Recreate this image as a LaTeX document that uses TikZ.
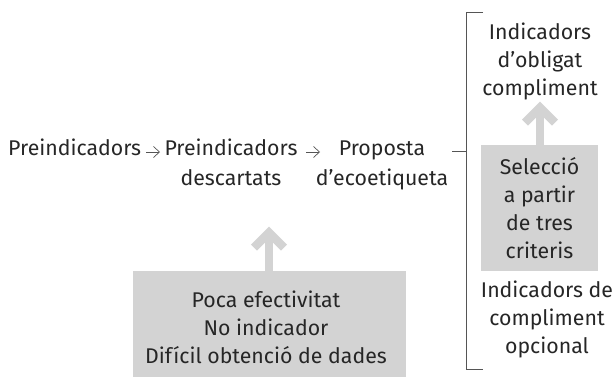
\documentclass[tikz,border=0pt]{standalone}
\usepackage{fontspec}
\setmainfont{Fira Sans}
\usetikzlibrary{arrows.meta}
\definecolor{txt}{HTML}{262626}
\definecolor{boxgray}{HTML}{D3D3D3}
\definecolor{linegray}{HTML}{555555}
\tikzset{
  lbl/.style={text=txt, inner sep=0pt, align=center, font=\fontsize{21.3}{28}\selectfont},
  lblwide/.style={lbl, font=\fontsize{21.3}{30}\selectfont},
  graybox/.style={fill=boxgray, draw=none, inner sep=0pt},
  fatarrow/.style={draw=boxgray, line width=8.5pt, miter limit=10},
  thinarr/.style={draw=linegray, line width=0.7pt, -{Straight Barb[length=6pt,width=11pt,line width=0.7pt]}},
  brack/.style={draw=linegray, line width=0.8pt}
}
\begin{document}
\begin{tikzpicture}[x=1pt,y=-1pt]
\useasboundingbox (0,0) rectangle (615,378);
% gray boxes
\node[graybox, minimum width=117pt, minimum height=126pt] (selbox) at (539.5,208) {};
\node[graybox, minimum width=273pt, minimum height=106pt] (botbox) at (269.5,324) {};
% texts (anchor base = baseline of the last line)
\node[lbl, anchor=base west] (p1) at (8,155) {Preindicadors};
\node[lblwide, anchor=base] (p2) at (231,185) {Preindicadors\\descartats};
\node[lblwide, anchor=base] (p3) at (382,185) {Proposta\\d’ecoetiqueta};
\node[lbl, anchor=base] (top) at (540,95) {Indicadors\\d’obligat\\compliment};
\node[lbl, anchor=base] (sel) at (539.5,258) {Selecció\\a partir\\de tres\\criteris};
\node[lbl, anchor=base] (opc) at (547,353) {Indicadors de\\compliment\\opcional};
\node[lbl, anchor=base] (bot) at (266,363) {Poca efectivitat\\No indicador\\Difícil obtenció de dades};
% thin arrows
\coordinate (a1s) at (146,152);
\coordinate (a1e) at (160,152);
\coordinate (a2s) at (306,152);
\coordinate (a2e) at (320,152);
\draw[thinarr] (a1s) -- (a1e);
\draw[thinarr] (a2s) -- (a2e);
% bracket
\coordinate (bt) at (466,12);
\coordinate (bb) at (466,369);
\coordinate (bj) at (466,151);
\coordinate (pe) at (452,151);
\draw[brack] (483,12) -- (bt) -- (bb) -- (483,369);
\draw[brack] (pe) -- (bj);
% fat arrows
\coordinate (t1) at (540,107.7);
\draw[fatarrow] (selbox.north -| t1) -- (t1);
\draw[fatarrow] ([shift={(-15,15)}]t1) -- (t1) -- ([shift={(15,15)}]t1);
\coordinate (t2) at (269,232.7);
\draw[fatarrow] (botbox.north -| t2) -- (t2);
\draw[fatarrow] ([shift={(-15,15)}]t2) -- (t2) -- ([shift={(15,15)}]t2);
\end{tikzpicture}
\end{document}
